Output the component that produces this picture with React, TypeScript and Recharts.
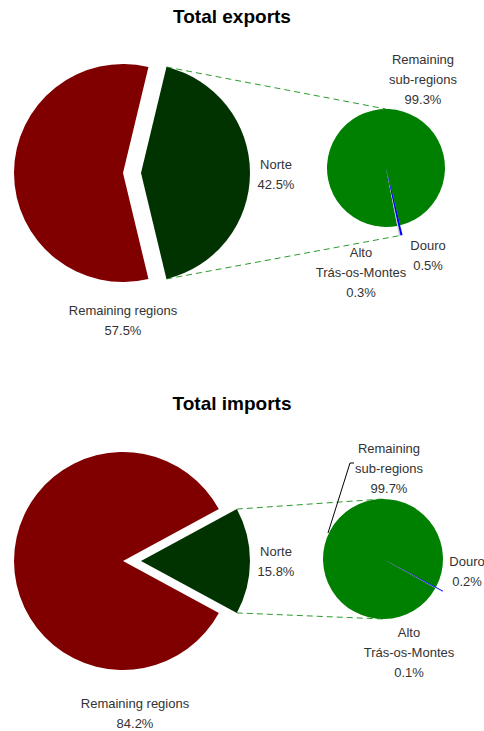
import React from "react";
import { PieChart, Pie, Cell, Customized } from "recharts";

// main split: Norte vs the rest of the country
const regionNames = ["Norte", "Remaining regions"];
const exportRegionShares = [42.5, 57.5];
const importRegionShares = [15.8, 84.2];

// breakdown of Norte
const subRegionNames = ["Alto Trás-os-Montes", "Douro", "Remaining sub-regions"];
const exportSubShares = [0.3, 0.5, 99.3];
const importSubShares = [0.1, 0.2, 99.7];

const panelTitles = ["Total exports", "Total imports"];

const labelLines: Record<string, string[]> = {
  Norte: ["Norte"],
  "Remaining regions": ["Remaining regions"],
  "Alto Trás-os-Montes": ["Alto", "Trás-os-Montes"],
  Douro: ["Douro"],
  "Remaining sub-regions": ["Remaining", "sub-regions"],
};

const regionColors = ["#003300", "#800000"];
const subColors = ["#c8c8c8", "#0000ff", "#008000"];

const FONT = "'Liberation Sans', Arial, sans-serif";
const TEXT = "#333333";

type Panel = {
  title: string;
  titleY: number;
  regionShares: number[];
  subShares: number[];
  big: { cx: number; cy: number; r: number; explode: number };
  small: { cx: number; cy: number; r: number; start: number; spike: number };
  lowerToSpike: boolean;
  labels: Record<string, [number, number]>;
  leader?: [number, number][];
};

const panels: Panel[] = [
  {
    title: panelTitles[0],
    titleY: 23,
    regionShares: exportRegionShares,
    subShares: exportSubShares,
    big: { cx: 123, cy: 173, r: 109, explode: 18 },
    small: { cx: 386, cy: 168, r: 59, start: -79, spike: 10 },
    lowerToSpike: true,
    labels: {
      Norte: [276, 169],
      "Remaining regions": [123, 315],
      "Remaining sub-regions": [423, 64],
      Douro: [428, 250],
      "Alto Trás-os-Montes": [361, 257],
    },
  },
  {
    title: panelTitles[1],
    titleY: 410,
    regionShares: importRegionShares,
    subShares: importSubShares,
    big: { cx: 123, cy: 561, r: 109, explode: 18 },
    small: { cx: 383, cy: 559, r: 60, start: -29, spike: 8 },
    lowerToSpike: false,
    labels: {
      Norte: [276, 556],
      "Remaining regions": [135, 708],
      "Remaining sub-regions": [389, 453],
      Douro: [467, 566],
      "Alto Trás-os-Montes": [409, 637],
    },
    leader: [
      [328, 533],
      [350, 463],
      [354, 463],
    ],
  },
];

const rows = (names: string[], values: number[]) =>
  names.map((name, i) => ({ name, value: values[i] }));

const rad = Math.PI / 180;
const polar = (cx: number, cy: number, r: number, deg: number) => [
  cx + r * Math.cos(deg * rad),
  cy - r * Math.sin(deg * rad),
];

function Label({ x, y, name, value }: { x: number; y: number; name: string; value: number }) {
  const lines = [...labelLines[name], `${value.toFixed(1)}%`];
  return (
    <text x={x} y={y} textAnchor="middle" fontFamily={FONT} fontSize={13} fill={TEXT}>
      {lines.map((l, i) => (
        <tspan key={i} x={x} dy={i === 0 ? 0 : 20}>
          {l}
        </tspan>
      ))}
    </text>
  );
}

function Overlay({ p }: { p: Panel }) {
  const { big, small } = p;
  const half = p.regionShares[0] * 1.8;
  const [ux, uy] = polar(big.cx + big.explode, big.cy, big.r, half);
  const [lx, ly] = polar(big.cx + big.explode, big.cy, big.r, -half);
  const [tx, ty] = polar(small.cx, small.cy, small.r, 90);
  const spikeAngle = small.start + (p.subShares[0] + p.subShares[1]) * 1.8;
  const [bx, by] = p.lowerToSpike
    ? polar(small.cx, small.cy, small.r + small.spike, spikeAngle)
    : polar(small.cx, small.cy, small.r, -90);
  return (
    <g>
      <text
        x={232}
        y={p.titleY}
        textAnchor="middle"
        fontFamily={FONT}
        fontWeight="bold"
        fontSize={19}
        fill="#000"
      >
        {p.title}
      </text>
      <line x1={ux} y1={uy} x2={tx} y2={ty} stroke="#2e9a2e" strokeDasharray="6 4" />
      <line x1={lx} y1={ly} x2={bx} y2={by} stroke="#2e9a2e" strokeDasharray="6 4" />
      {p.leader && (
        <polyline
          points={p.leader.map((pt) => pt.join(",")).join(" ")}
          fill="none"
          stroke="#000"
          strokeWidth={1}
        />
      )}
      {regionNames.map((n, i) => (
        <Label key={n} x={p.labels[n][0]} y={p.labels[n][1]} name={n} value={p.regionShares[i]} />
      ))}
      {subRegionNames.map((n, i) => (
        <Label key={n} x={p.labels[n][0]} y={p.labels[n][1]} name={n} value={p.subShares[i]} />
      ))}
    </g>
  );
}

function panelPies(p: Panel, key: number) {
  const regionData = rows(regionNames, p.regionShares);
  const subData = rows(subRegionNames, p.subShares);
  const start = p.regionShares[0] * 1.8;
  const { big, small } = p;
  return [
    <Pie
      key={`rest${key}`}
      data={regionData}
      dataKey="value"
      cx={big.cx}
      cy={big.cy}
      outerRadius={big.r}
      startAngle={start}
      endAngle={start - 360}
      stroke="none"
      isAnimationActive={false}
    >
      {regionData.map((d, i) => (
        <Cell key={d.name} fill={i === 0 ? "none" : regionColors[i]} />
      ))}
    </Pie>,
    <Pie
      key={`norte${key}`}
      data={regionData}
      dataKey="value"
      cx={big.cx + big.explode}
      cy={big.cy}
      outerRadius={big.r}
      startAngle={start}
      endAngle={start - 360}
      stroke="none"
      isAnimationActive={false}
    >
      {regionData.map((d, i) => (
        <Cell key={d.name} fill={i === 0 ? regionColors[i] : "none"} />
      ))}
    </Pie>,
    <Pie
      key={`sub${key}`}
      data={subData}
      dataKey="value"
      cx={small.cx}
      cy={small.cy}
      outerRadius={small.r}
      startAngle={small.start}
      endAngle={small.start + 360}
      stroke="none"
      isAnimationActive={false}
    >
      {subData.map((d, i) => (
        <Cell key={d.name} fill={subColors[i]} />
      ))}
    </Pie>,
    <Pie
      key={`spike${key}`}
      data={subData}
      dataKey="value"
      cx={small.cx}
      cy={small.cy}
      outerRadius={small.r + small.spike}
      startAngle={small.start}
      endAngle={small.start + 360}
      stroke="none"
      isAnimationActive={false}
    >
      {subData.map((d, i) => (
        <Cell key={d.name} fill={i === 2 ? "none" : subColors[i]} />
      ))}
    </Pie>,
  ];
}

export default function App() {
  return (
    <div style={{ position: "absolute", left: 0, top: 0, width: 484, height: 731, background: "#fff" }}>
      <PieChart width={484} height={731} margin={{ top: 0, right: 0, bottom: 0, left: 0 }}>
        {panels.flatMap((p, i) => panelPies(p, i))}
        <Customized component={() => <Overlay p={panels[0]} />} />
        <Customized component={() => <Overlay p={panels[1]} />} />
      </PieChart>
    </div>
  );
}
